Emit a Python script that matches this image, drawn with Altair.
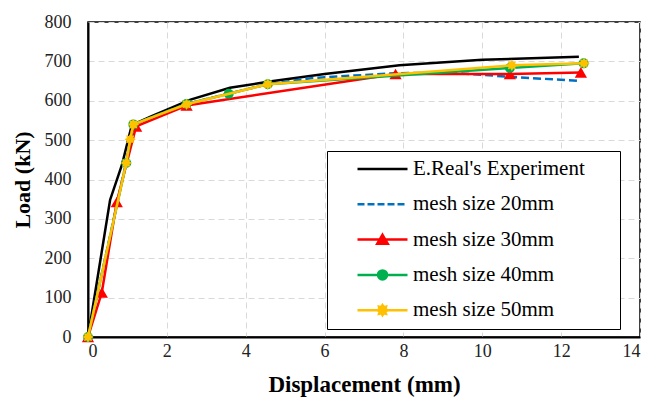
import math
import altair as alt
import pandas as pd

SERIES = ["E.Real's Experiment", "mesh size 20mm", "mesh size 30mm",
          "mesh size 40mm", "mesh size 50mm"]
COLORS = ["#000000", "#0070C0", "#FF0000", "#00B050", "#FFC000"]

X_TICKS = [0, 2, 4, 6, 8, 10, 12, 14]
Y_TICKS = [0, 100, 200, 300, 400, 500, 600, 700, 800]

EXP_X = [0, 0.56, 0.86, 1.11, 1.6, 2.6, 3.6, 4.56, 6.0, 7.9, 10.0, 12.45]
EXP_Y = [0, 348, 437, 538, 560, 603, 633, 648, 668, 690, 704, 712]

M20_X = [0, 0.97, 1.15, 2.5, 4.56, 5.7, 7.8, 9.2, 10.7, 12.5]
M20_Y = [0, 445, 540, 592, 642, 658, 670, 671, 661, 650]

M30_X = [0, 0.35, 0.73, 1.22, 2.5, 7.8, 10.7, 12.5]
M30_Y = [0, 113, 343, 535, 588, 668, 668, 672]

M40_X = [0, 0.97, 1.15, 2.5, 3.57, 4.56, 10.7, 12.57]
M40_Y = [0, 442, 540, 592, 618, 642, 683, 695]

M50_X = [0, 0.97, 1.07, 1.15, 2.5, 4.56, 10.75, 12.58]
M50_Y = [0, 442, 502, 540, 591, 642, 690, 695]

FONT = "Liberation Serif"


def star_path(r_out, r_in, n=8, cx=0.0):
    pts = []
    for k in range(2 * n):
        a = -math.pi / 2 + k * math.pi / n
        r = r_out if k % 2 == 0 else r_in
        pts.append(f"{cx + r * math.cos(a):.3f},{r * math.sin(a):.3f}")
    return "M" + "L".join(pts) + "Z"


STAR = star_path(1.0, 0.62)

# legend symbols: a line 50 px long with the series marker in the middle
dash_segs = []
s = -1.0
while s < 1.0:
    e = min(s + 0.28, 1.0)
    dash_segs.append(f"M{s:.2f},0L{e:.2f},0")
    s += 0.40
LEGEND_PATHS = [
    "M-1,0L1,0",
    "".join(dash_segs),
    "M-1,0L1,0M0,-0.19L0.21,0.17L-0.21,0.17Z",
    "M-1,0L1,0M0.18,0A0.18,0.18 0 1,1 -0.18,0A0.18,0.18 0 1,1 0.18,0Z",
    "M-1,0L1,0" + star_path(0.2, 0.13),
]

DATA = [(EXP_X, EXP_Y), (M20_X, M20_Y), (M30_X, M30_Y), (M40_X, M40_Y), (M50_X, M50_Y)]
DASHES = [None, [8, 4], None, None, None]
SHAPES = [None, None, "triangle-up", "circle", STAR]
SIZES = [0, 0, 150, 100, 130]

AXIS_STYLE = dict(
    labelFont=FONT, labelFontSize=18, labelColor="#222222",
    gridColor="#d9d9d9", gridDash=[6, 4], gridWidth=1,
    domainColor="black", domainWidth=2, ticks=False,
    titleFont=FONT, titleFontWeight="bold", titleColor="black",
)


def xenc():
    return alt.X("x:Q", scale=alt.Scale(domain=[0, 14], nice=False, zero=False),
                 axis=alt.Axis(values=X_TICKS, title="Displacement (mm)",
                               labelPadding=5, titlePadding=13, titleFontSize=23,
                               **AXIS_STYLE))


def yenc():
    return alt.Y("y:Q", scale=alt.Scale(domain=[0, 800], nice=False),
                 axis=alt.Axis(values=Y_TICKS, title="Load (kN)",
                               labelPadding=17, titlePadding=10, titleFontSize=22,
                               **AXIS_STYLE))


layers = []
for (xs, ys), color, dash, shape, size in zip(DATA, COLORS, DASHES, SHAPES, SIZES):
    df = pd.DataFrame({"x": xs, "y": ys, "i": list(range(len(xs)))})
    lk = dict(color=color, strokeWidth=2.5)
    if dash:
        lk["strokeDash"] = dash
    layers.append(alt.Chart(df).mark_line(**lk).encode(x=xenc(), y=yenc(), order="i:Q"))
    if shape:
        layers.append(
            alt.Chart(df).mark_point(shape=shape, filled=True, color=color, size=size,
                                     opacity=1, strokeWidth=0).encode(x=xenc(), y=yenc())
        )

# an invisible title on the right side gives the legend box its right margin
legend = alt.Legend(
    title="MM", titleOrient="right", titlePadding=8, titleOpacity=0,
    titleFont=FONT, titleFontSize=10,
    orient="none", legendX=239, legendY=129,
    padding=8, clipHeight=20, rowPadding=14.3,
    symbolSize=2500, symbolStrokeWidth=2.5, symbolOffset=21, symbolOpacity=1,
    labelOffset=4, labelFont=FONT, labelFontSize=21, labelColor="black",
    labelLimit=400, strokeColor="black", fillColor="white",
)
leg_df = pd.DataFrame({"series": SERIES})
leg_layer = alt.Chart(leg_df).mark_point(opacity=0, filled=True, strokeWidth=2.5).encode(
    x=alt.value(0), y=alt.value(0),
    shape=alt.Shape("series:N", scale=alt.Scale(domain=SERIES, range=LEGEND_PATHS), legend=legend),
    fill=alt.Fill("series:N", scale=alt.Scale(domain=SERIES, range=COLORS), legend=legend),
    stroke=alt.Stroke("series:N", scale=alt.Scale(domain=SERIES, range=COLORS), legend=legend),
)

chart = (
    alt.layer(*layers, leg_layer)
    .properties(width=552, height=315, autosize=alt.AutoSizeParams(type="none"),
                padding={"left": 88, "top": 22, "right": 8, "bottom": 67},
                background="white")
    .configure_view(stroke="black", strokeWidth=1.5)
    .configure_axis(**AXIS_STYLE)
)

chart.save("out.html", embed_options={"renderer": "svg", "actions": False})
